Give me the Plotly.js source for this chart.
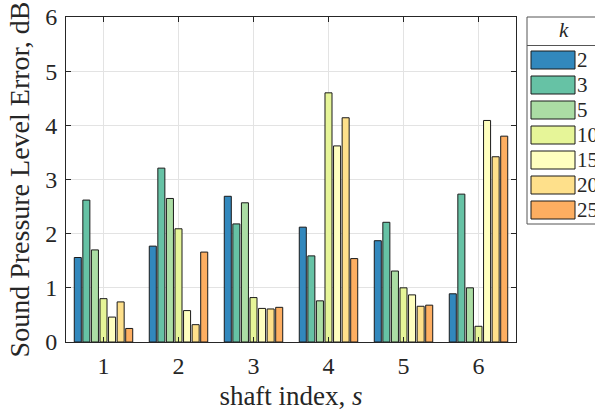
<!DOCTYPE html>
<html>
<head>
<meta charset="utf-8">
<script src="https://cdn.plot.ly/plotly-3.0.1.min.js"></script>
<style>html,body{margin:0;padding:0;background:#fff;}#chart{width:595px;height:414px;}</style>
</head>
<body>
<div id="chart"></div>
<script>
// ---- data ----
const shafts = [1, 2, 3, 4, 5, 6];
const xTickLabels = ['1', '2', '3', '4', '5', '6'];
const kLabels = ['2', '3', '5', '10', '15', '20', '25'];
const kColors = ['#3288bd', '#66c2a5', '#abdda4', '#e6f598', '#ffffbf', '#fee08b', '#fdae61'];
const errK2  = [1.56, 1.77, 2.69, 2.12, 1.87, 0.89];
const errK3  = [2.62, 3.21, 2.18, 1.59, 2.21, 2.73];
const errK5  = [1.70, 2.65, 2.57, 0.76, 1.31, 1.00];
const errK10 = [0.80, 2.09, 0.82, 4.60, 1.00, 0.29];
const errK15 = [0.46, 0.58, 0.62, 3.62, 0.87, 4.09];
const errK20 = [0.74, 0.32, 0.61, 4.14, 0.66, 3.42];
const errK25 = [0.25, 1.66, 0.64, 1.54, 0.68, 3.80];
const series = [errK2, errK3, errK5, errK10, errK15, errK20, errK25];

// ---- layout geometry (pixels) ----
const W = 595, H = 414;
const mL = 66, mR = 79, mT = 17, mB = 72;
const plotW = W - mL - mR, plotH = H - mT - mB;
const px = x => (x - mL) / plotW;
const py = y => (H - mB - y) / plotH;

const FONT = 'Liberation Serif, Times New Roman, serif';
const INK = '#262626';

const traces = series.map((vals, i) => ({
  type: 'bar',
  x: shafts,
  y: vals,
  name: kLabels[i],
  marker: {color: kColors[i], line: {color: '#1a1a1a', width: 1}},
  showlegend: false,
  hoverinfo: 'x+y+name'
}));

// custom legend
const shapes = [];
const annotations = [];
const legL = 527, legR = 612, legT = 17, legB = 224, sepY = 45.5;
shapes.push({type: 'rect', xref: 'paper', yref: 'paper', x0: px(legL), x1: px(legR), y0: py(legB), y1: py(legT),
  line: {color: '#555', width: 1}, fillcolor: '#fff', layer: 'above'});
shapes.push({type: 'line', xref: 'paper', yref: 'paper', x0: px(legL), x1: px(legR), y0: py(sepY), y1: py(sepY),
  line: {color: '#555', width: 1}, layer: 'above'});
annotations.push({xref: 'paper', yref: 'paper', x: px(564), y: py(30), xanchor: 'center', yanchor: 'middle',
  text: '<i>k</i>', showarrow: false, font: {family: FONT, size: 21, color: INK}});
kLabels.forEach((lab, i) => {
  const cy = 60 + 25 * i;
  shapes.push({type: 'rect', xref: 'paper', yref: 'paper', x0: px(531), x1: px(575), y0: py(cy + 9), y1: py(cy - 9),
    line: {color: '#1a1a1a', width: 1}, fillcolor: kColors[i], layer: 'above'});
  annotations.push({xref: 'paper', yref: 'paper', x: px(575), y: py(cy), xanchor: 'left', yanchor: 'middle',
    text: lab, showarrow: false, font: {family: FONT, size: 21, color: INK}});
});

const layout = {
  width: W, height: H,
  margin: {l: mL, r: mR, t: mT, b: mB, pad: 0},
  paper_bgcolor: '#fff', plot_bgcolor: '#fff',
  font: {family: FONT, size: 24, color: INK},
  barmode: 'group', bargap: 0.2, bargroupgap: 0.18,
  showlegend: false,
  xaxis: {
    range: [0.5, 6.5], tickmode: 'array', tickvals: shafts, ticktext: xTickLabels,
    ticks: 'inside', ticklen: 5, tickcolor: INK, tickwidth: 1, ticklabelstandoff: 2,
    showline: true, linecolor: INK, linewidth: 1, mirror: 'allticks',
    showgrid: true, gridcolor: '#e3e3e3', gridwidth: 1, zeroline: false,
    tickfont: {family: FONT, size: 24, color: INK},
    title: {text: 'shaft index, <i>s</i>', font: {family: FONT, size: 27, color: INK}, standoff: 8}
  },
  yaxis: {
    range: [0, 6], tickmode: 'linear', tick0: 0, dtick: 1,
    ticks: 'inside', ticklen: 5, tickcolor: INK, tickwidth: 1, ticklabelstandoff: 3,
    showline: true, linecolor: INK, linewidth: 1, mirror: 'allticks',
    showgrid: true, gridcolor: '#e3e3e3', gridwidth: 1, zeroline: false,
    tickfont: {family: FONT, size: 24, color: INK},
    title: {text: 'Sound Pressure Level Error, dB', font: {family: FONT, size: 28, color: INK}, standoff: 7}
  },
  shapes: shapes,
  annotations: annotations
};

Plotly.newPlot('chart', traces, layout, {displayModeBar: false, staticPlot: true});
</script>
</body>
</html>
